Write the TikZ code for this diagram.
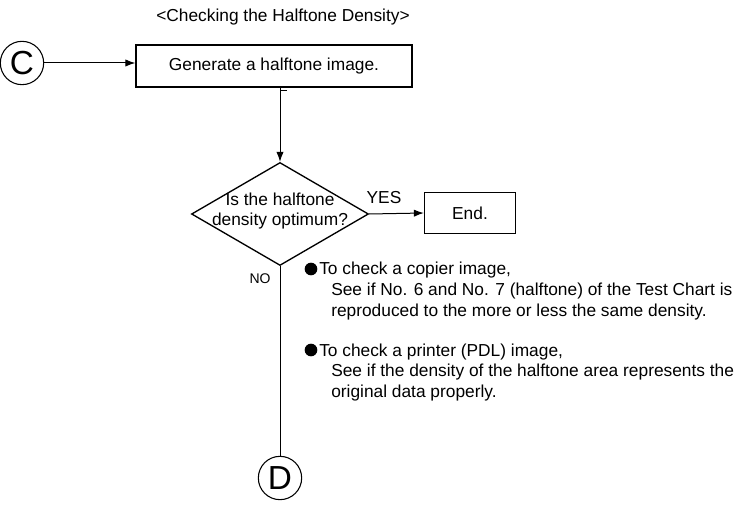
\documentclass[tikz,border=0pt]{standalone}
\usepackage{fontspec}
\setmainfont{Liberation Sans}
\usetikzlibrary{shapes.geometric,arrows.meta}

\tikzset{
  txt/.style={font=\fontsize{13}{15.4}\selectfont, inner sep=0pt},
  connector/.style={circle, draw, line width=0.8pt, minimum size=32.5pt, inner sep=0pt, font=\fontsize{25}{25}\selectfont},
  procbox/.style={rectangle, draw, line width=1pt, inner sep=0pt, font=\fontsize{13}{15.4}\selectfont},
  decision/.style={diamond, draw, line width=1pt, inner sep=0pt, minimum width=132.75pt, minimum height=77.25pt},
  dot/.style={circle, fill, inner sep=0pt, minimum size=9.5pt},
  flow/.style={line width=0.75pt, -{Latex[length=7.5pt,width=5.5pt]}},
  plain/.style={line width=0.75pt}
}

\begin{document}
\begin{tikzpicture}[x=0.75pt,y=-0.75pt]
        \useasboundingbox (0,0) rectangle (737,505);
        \node[txt] (title) at (283,17) {<Checking the Halftone Density>};
        % connectors and boxes
        \node[connector] (c) at (22,63) {C};
        \node[procbox, minimum width=207pt, minimum height=31.5pt] (gen) at (274,66) {Generate a halftone image.};
        \node[decision] (q) at (280,214) {};
        \node[txt, align=center] (qtext) at (280,211) {Is the halftone\\density optimum?};
        \node[procbox, minimum width=68.25pt, minimum height=30.75pt] (end) at (470,213) {End.};
        \node[connector] (d) at (280,478) {D};
        % lines
        \draw[flow] (c.east) -- (gen.west |- c.east);
        \draw[flow] (q.north |- gen.south) -- (q.north);
        \draw[plain] (q.north |- gen.south) ++(0,3) coordinate (tick) -- ++(7,0);
        \draw[flow] (q.east) -- (end.west);
        \draw[plain] (q.south) -- (d.north);
        \node[txt] (yes) at (384,198) {YES};
        \node[txt, font=\fontsize{10.5}{12}\selectfont] (no) at (260,279) {NO};
        % notes
        \node[dot] (b1) at (311,269) {};
        \node[txt, anchor=base west] (n1) at (319,275) {To check a copier image,};
        \node[txt, anchor=base west, align=left] (n1b) at (331,316) {See if No. 6 and No. 7 (halftone) of the Test Chart is\\reproduced to the more or less the same density.};
        \node[dot] (b2) at (311,350) {};
        \node[txt, anchor=base west] (n2) at (319,356) {To check a printer (PDL) image,};
        \node[txt, anchor=base west, align=left] (n2b) at (331,397) {See if the density of the halftone area represents the\\original data properly.};
\end{tikzpicture}
\end{document}
